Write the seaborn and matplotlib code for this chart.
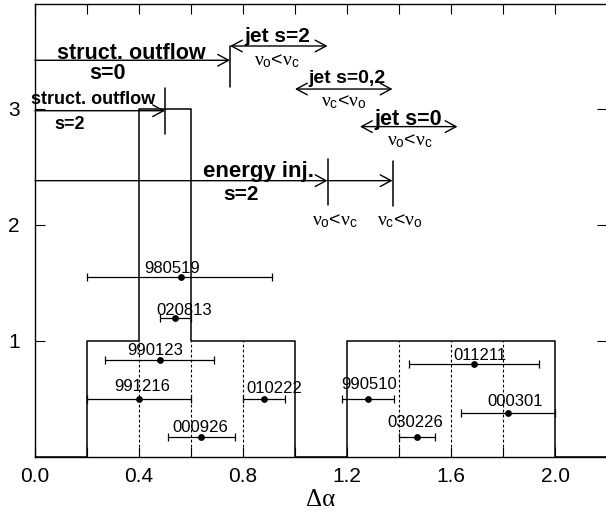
import numpy as np
import pandas as pd
import matplotlib
matplotlib.use("Agg")
import matplotlib.pyplot as plt
import seaborn as sns

# ---- data ----
grb = ["980519", "020813", "990123", "991216", "010222", "000926",
       "011211", "990510", "000301", "030226"]
dalpha = [0.56, 0.54, 0.48, 0.40, 0.88, 0.64, 1.69, 1.28, 1.82, 1.47]
err_lo = [0.36, 0.06, 0.21, 0.20, 0.08, 0.13, 0.25, 0.10, 0.18, 0.07]
err_hi = [0.35, 0.06, 0.21, 0.20, 0.08, 0.13, 0.25, 0.10, 0.18, 0.07]
level = [1.55, 1.20, 0.84, 0.50, 0.50, 0.175, 0.80, 0.50, 0.38, 0.175]

bin_edges = [0.0, 0.2, 0.4, 0.6, 0.8, 1.0, 1.2, 1.4, 1.6, 1.8, 2.0, 2.2]
bin_counts = [0, 1, 3, 1, 1, 0, 1, 1, 1, 1, 0]

xticks = [0.0, 0.2, 0.4, 0.6, 0.8, 1.0, 1.2, 1.4, 1.6, 1.8, 2.0, 2.2]
xtick_labels = ["0.0", "", "0.4", "", "0.8", "", "1.2", "", "1.6", "", "2.0", ""]
yticks = [1, 2, 3]
ytick_labels = ["1", "2", "3"]

# model predictions (Delta alpha ranges)
struct0_range = [0.0, 0.75]
struct2_range = [0.0, 0.5]
jet2_range = [0.75, 1.125]
jet02_range = [1.0, 1.375]
jet0_range = [1.25, 1.625]
einj_marks = [0.0, 1.125, 1.375]

# label offsets (pixels) relative to points
lab_dx = [-8, 9, -5, 3, 11, -1, 6, 1, 7, -2]
lab_dy = [4, 3, 5, 7.5, 6, 5, 4, 10, 6.5, 9.5]

sns.set_theme(style="ticks")
plt.rcParams["font.family"] = ["Liberation Sans", "DejaVu Sans"]
plt.rcParams.update({
    "mathtext.fontset": "custom",
    "mathtext.rm": "Liberation Sans",
    "mathtext.it": "Liberation Serif",
    "mathtext.bf": "Liberation Sans:bold",
    "text.color": "black",
    "axes.labelcolor": "black",
    "xtick.color": "black",
    "ytick.color": "black",
})

fig = plt.figure(figsize=(6.06, 5.21), dpi=100)
ax = fig.add_axes([35 / 606, 64 / 521, 572 / 606, 453 / 521])

edges = np.array(bin_edges)
centers = (edges[:-1] + edges[1:]) / 2
df_hist = pd.DataFrame({"center": centers, "count": bin_counts})
sns.histplot(data=df_hist, x="center", weights="count", bins=bin_edges,
             element="step", fill=False, color="black", linewidth=1.1, ax=ax)

# dashed bin separators inside the histogram
for i in range(1, len(bin_counts)):
    h = min(bin_counts[i - 1], bin_counts[i])
    if h > 0:
        ax.vlines(edges[i], 0, h, colors="black", linestyles=(0, (2.5, 2)), lw=0.8)

# error bars + points
ax.errorbar(dalpha, level, xerr=[err_lo, err_hi], fmt="none", ecolor="black",
            elinewidth=0.9, capsize=3, capthick=0.9, zorder=3)
sns.scatterplot(x=dalpha, y=level, color="black", s=24, linewidth=0, ax=ax, zorder=4)
for name, x, y, dx, dy in zip(grb, dalpha, level, lab_dx, lab_dy):
    ax.annotate(name, (x, y), xytext=(dx, dy), textcoords="offset pixels",
                ha="center", va="baseline", fontsize=12, color="black")

# arrows
def arrow(x0, x1, y, style):
    ax.annotate("", xy=(x1, y), xytext=(x0, y),
                arrowprops=dict(arrowstyle=style + ",head_length=0.65,head_width=0.35",
                                lw=1, color="black", shrinkA=0, shrinkB=0),
                annotation_clip=False)

def vtick(x, y0, y1):
    ax.plot([x, x], [y0, y1], color="black", lw=1.1)

nu_oc = r"$\nu_\mathrm{o}$<$\nu_\mathrm{c}$"
nu_co = r"$\nu_\mathrm{c}$<$\nu_\mathrm{o}$"

# structured outflow s=0
arrow(struct0_range[0], struct0_range[1], 3.42, "->")
vtick(struct0_range[1], 3.19, 3.54)
ax.text(0.370, 3.435, "struct. outflow", ha="center", va="baseline", fontsize=15.5, fontweight="bold")
ax.text(0.278, 3.306, "s=0", ha="center", va="center", fontsize=15.5, fontweight="bold")

# structured outflow s=2
arrow(struct2_range[0], struct2_range[1], 2.985, "->")
vtick(struct2_range[1], 2.785, 3.18)
ax.text(0.225, 3.045, "struct. outflow", ha="center", va="baseline", fontsize=13, fontweight="bold")
ax.text(0.133, 2.87, "s=2", ha="center", va="center", fontsize=13, fontweight="bold")

# jet s=2
arrow(jet2_range[0], jet2_range[1], 3.543, "<->")
ax.text(0.931, 3.58, "jet s=2", ha="center", va="baseline", fontsize=15, fontweight="bold")
ax.text(0.93, 3.41, nu_oc, ha="center", va="center", fontsize=14)

# jet s=0,2
arrow(jet02_range[0], jet02_range[1], 3.172, "<->")
ax.text(1.198, 3.221, "jet s=0,2", ha="center", va="baseline", fontsize=14, fontweight="bold")
ax.text(1.187, 3.056, nu_co, ha="center", va="center", fontsize=14)

# jet s=0
arrow(jet0_range[0], jet0_range[1], 2.848, "<->")
ax.text(1.434, 2.862, "jet s=0", ha="center", va="baseline", fontsize=15.5, fontweight="bold")
ax.text(1.44, 2.724, nu_oc, ha="center", va="center", fontsize=14)

# energy injection s=2
arrow(einj_marks[0], einj_marks[1], 2.382, "->")
arrow(einj_marks[1], einj_marks[2], 2.382, "->")
vtick(einj_marks[1], 2.17, 2.57)
vtick(einj_marks[2], 2.16, 2.55)
ax.text(0.861, 2.415, "energy inj.", ha="center", va="baseline", fontsize=16, fontweight="bold")
ax.text(0.794, 2.265, "s=2", ha="center", va="center", fontsize=15, fontweight="bold")
ax.text(1.152, 2.03, nu_oc, ha="center", va="center", fontsize=14)
ax.text(1.402, 2.03, nu_co, ha="center", va="center", fontsize=14)

# axes styling
ax.set_xlim(0, 2.18)
ax.set_ylim(0, 3.905)
ax.set_xticks(xticks)
ax.set_xticklabels(xtick_labels)
ax.set_yticks(yticks)
ax.set_yticklabels(ytick_labels)
ax.tick_params(axis="both", direction="in", length=7, width=0.8, color="black",
               top=True, right=True, labelsize=15, labelcolor="black")
ax.tick_params(axis="x", pad=7)
ax.tick_params(axis="y", pad=11)
for s in ax.spines.values():
    s.set_visible(True)
    s.set_color("black")
    s.set_linewidth(1.0)
ax.set_ylabel("")
ax.set_xlabel("Δα", fontsize=18, family="Liberation Serif", labelpad=2, color="black")
ax.set_facecolor("white")
fig.patch.set_facecolor("white")

fig.savefig("out.png", dpi=100, facecolor="white")
